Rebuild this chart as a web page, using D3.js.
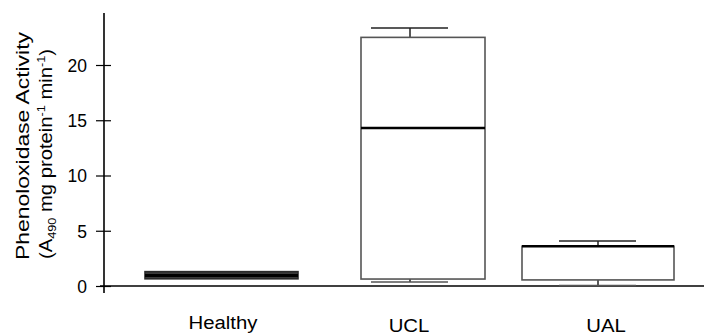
<!DOCTYPE html>
<html><head><meta charset="utf-8">
<script src="https://cdn.jsdelivr.net/npm/d3@7"></script>
<style>body{margin:0;background:#fff}svg{display:block}text{font-family:"Liberation Sans",Arial,sans-serif}</style>
</head><body><svg id="c" width="704" height="335"></svg>
<script>
const categories = ["Healthy", "UCL", "UAL"];
const whiskerLow = [0.65, 0.36, 0.05];
const q1 = [0.65, 0.63, 0.55];
const median = [0.95, 14.3, 3.6];
const q3 = [1.3, 22.5, 3.6];
const whiskerHigh = [1.3, 23.35, 4.07];
const yTicks = [0, 5, 10, 15, 20];

const svg = d3.select("#c");
const y = d3.scaleLinear().domain([0, 20]).range([286, 65]);
const x = d3.scaleBand().domain(categories).range([128, 692]);
const cx = c => x(c) + x.bandwidth() / 2;
// box geometry per category (style, not data)
const boxLeft = {Healthy: -77, UCL: -49, UAL: -76};
const boxRight = {Healthy: 76, UCL: 75, UAL: 76};
const labelDx = {Healthy: 1, UCL: -1, UAL: 8};
const labelY = {Healthy: 329, UCL: 332, UAL: 332};

// axes
const yAxis = d3.axisLeft(y).tickValues(yTicks).tickSizeInner(8).tickSizeOuter(0).tickPadding(3);
const ga = svg.append("g").attr("transform", "translate(104,0)").call(yAxis);
ga.select(".domain").remove();
ga.selectAll(".tick line").attr("x1", -8).attr("x2", 7).attr("stroke", "#000").attr("stroke-width", 1.2);
ga.selectAll(".tick text").attr("font-size", 17.5).attr("fill", "#000").attr("x", -17).attr("dy", "0.36em");
svg.append("line").attr("x1", 104).attr("x2", 104).attr("y1", 13).attr("y2", 293).attr("stroke", "#000").attr("stroke-width", 1.6);
svg.append("line").attr("x1", 100).attr("x2", 704).attr("y1", y(0)).attr("y2", y(0)).attr("stroke", "#000").attr("stroke-width", 1.6);

// boxes
categories.forEach((c, i) => {
  const m = cx(c);
  const healthy = c === "Healthy";
  const g = svg.append("g");
  g.append("line").attr("x1", m).attr("x2", m).attr("y1", y(whiskerHigh[i])).attr("y2", y(q3[i])).attr("stroke", "#222").attr("stroke-width", 1.5);
  g.append("line").attr("x1", m).attr("x2", m).attr("y1", y(whiskerLow[i])).attr("y2", y(q1[i])).attr("stroke", "#222").attr("stroke-width", 1.5);
  if (!healthy) {
    g.append("line").attr("x1", m - 39).attr("x2", m + 38).attr("y1", y(whiskerHigh[i])).attr("y2", y(whiskerHigh[i])).attr("stroke", "#222").attr("stroke-width", 1.6);
    g.append("line").attr("x1", m - 39).attr("x2", m + 38).attr("y1", y(whiskerLow[i])).attr("y2", y(whiskerLow[i])).attr("stroke", "#555").attr("stroke-width", 1.6);
  }
  g.append("rect")
    .attr("x", m + boxLeft[c]).attr("width", boxRight[c] - boxLeft[c])
    .attr("y", y(q3[i])).attr("height", y(q1[i]) - y(q3[i]))
    .attr("fill", healthy ? "#3a3a3a" : "#fff")
    .attr("stroke", healthy ? "#2a2a2a" : "#555").attr("stroke-width", 1.6);
  g.append("line").attr("x1", m + boxLeft[c]).attr("x2", m + boxRight[c])
    .attr("y1", y(median[i])).attr("y2", y(median[i]))
    .attr("stroke", "#000").attr("stroke-width", healthy ? 3 : 2.5);
  const t = svg.append("text").attr("x", m + labelDx[c]).attr("y", labelY[c]).attr("text-anchor", "middle")
    .attr("font-size", 18).attr("fill", "#000").text(c);
  const w = t.node().getComputedTextLength();
  t.attr("textLength", w * 1.13).attr("lengthAdjust", "spacingAndGlyphs");
});

// y label
const yl = svg.append("g").attr("transform", "translate(0,146) rotate(-90)");
yl.append("text").attr("x", 0).attr("y", 29).attr("text-anchor", "middle").attr("font-size", 17.5)
  .attr("textLength", 228).attr("lengthAdjust", "spacingAndGlyphs").text("Phenoloxidase Activity");
const t2 = yl.append("text").attr("x", -8).attr("y", 52).attr("text-anchor", "middle").attr("font-size", 17.5)
  .attr("textLength", 210).attr("lengthAdjust", "spacingAndGlyphs");
t2.append("tspan").text("(A");
t2.append("tspan").attr("font-size", 11).attr("dy", 4).text("490");
t2.append("tspan").attr("dy", -4).text(" mg protein");
t2.append("tspan").attr("font-size", 11).attr("dy", -7).text("-1");
t2.append("tspan").attr("dy", 7).text(" min");
t2.append("tspan").attr("font-size", 11).attr("dy", -7).text("-1");
t2.append("tspan").attr("dy", 7).text(")");
</script></body></html>
